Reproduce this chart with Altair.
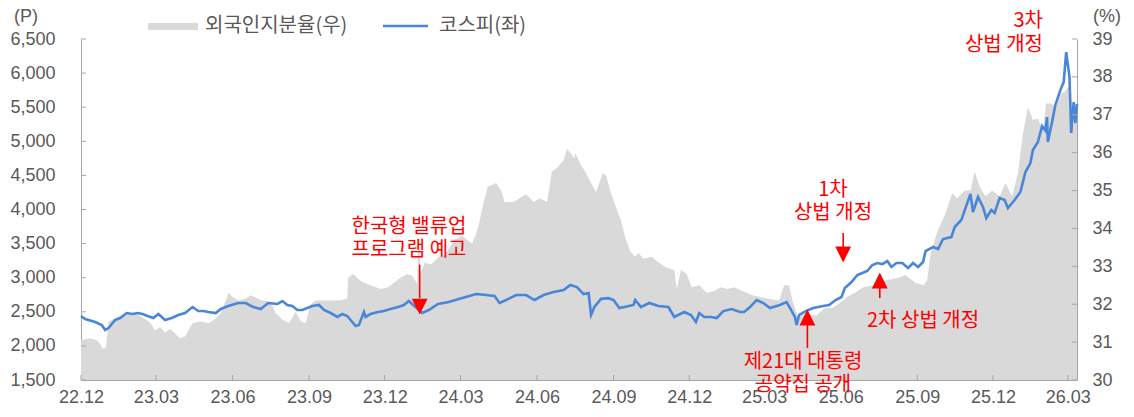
import altair as alt
import pandas as pd

# ---------------- data ----------------
kospi_dates = [
    "2022-12-01", "2022-12-06", "2022-12-18", "2022-12-26", "2022-12-30", "2023-01-03", "2023-01-11", "2023-01-17",
    "2023-01-25", "2023-02-01", "2023-02-07", "2023-02-13", "2023-02-19", "2023-02-26", "2023-03-04", "2023-03-12",
    "2023-03-20", "2023-03-28", "2023-04-05", "2023-04-14", "2023-04-21", "2023-04-27", "2023-05-03", "2023-05-12",
    "2023-05-18", "2023-05-27", "2023-06-08", "2023-06-17", "2023-06-26", "2023-07-05", "2023-07-08", "2023-07-14",
    "2023-07-25", "2023-07-31", "2023-08-06", "2023-08-12", "2023-08-18", "2023-08-24", "2023-08-30", "2023-09-05",
    "2023-09-13", "2023-09-19", "2023-09-27", "2023-10-05", "2023-10-11", "2023-10-17", "2023-10-23", "2023-10-27",
    "2023-10-31", "2023-11-06", "2023-11-08", "2023-11-14", "2023-11-23", "2023-11-30", "2023-12-08", "2023-12-17",
    "2023-12-24", "2023-12-30", "2024-01-07", "2024-01-15", "2024-01-23", "2024-02-03", "2024-02-16", "2024-02-28",
    "2024-03-20", "2024-04-01", "2024-04-11", "2024-04-17", "2024-04-25", "2024-05-07", "2024-05-19", "2024-05-29",
    "2024-06-09", "2024-06-21", "2024-07-03", "2024-07-11", "2024-07-19", "2024-07-27", "2024-08-02", "2024-08-05",
    "2024-08-09", "2024-08-17", "2024-08-26", "2024-09-01", "2024-09-08", "2024-09-14", "2024-09-25", "2024-09-27",
    "2024-10-04", "2024-10-14", "2024-10-25", "2024-11-06", "2024-11-13", "2024-11-25", "2024-12-03", "2024-12-09",
    "2024-12-13", "2024-12-19", "2024-12-27", "2025-01-03", "2025-01-11", "2025-01-21", "2025-01-31", "2025-02-05",
    "2025-02-12", "2025-02-20", "2025-02-28", "2025-03-08", "2025-03-20", "2025-03-28", "2025-04-01", "2025-04-07",
    "2025-04-09", "2025-04-12", "2025-04-20", "2025-04-29", "2025-05-11", "2025-05-18", "2025-05-26", "2025-06-02",
    "2025-06-06", "2025-06-14", "2025-06-21", "2025-06-27", "2025-07-03", "2025-07-09", "2025-07-15", "2025-07-21",
    "2025-07-27", "2025-08-01", "2025-08-07", "2025-08-14", "2025-08-21", "2025-08-27", "2025-09-02", "2025-09-08",
    "2025-09-11", "2025-09-20", "2025-09-26", "2025-10-02", "2025-10-12", "2025-10-16", "2025-10-24", "2025-10-29",
    "2025-11-04", "2025-11-07", "2025-11-13", "2025-11-19", "2025-11-23", "2025-11-29", "2025-12-03", "2025-12-09",
    "2025-12-15", "2025-12-19", "2025-12-27", "2026-01-03", "2026-01-09", "2026-01-15", "2026-01-18", "2026-01-24",
    "2026-01-29", "2026-02-02", "2026-02-04", "2026-02-05", "2026-02-10", "2026-02-14", "2026-02-20", "2026-02-24",
    "2026-02-27", "2026-03-03", "2026-03-05", "2026-03-08", "2026-03-10", "2026-03-12",
]
kospi_values = [
    2438, 2394, 2350, 2306, 2233, 2262, 2380, 2409,
    2482, 2467, 2482, 2467, 2438, 2409, 2467, 2380,
    2409, 2453, 2482, 2570, 2511, 2511, 2497, 2482,
    2541, 2585, 2629, 2629, 2570, 2541, 2570, 2629,
    2614, 2658, 2600, 2585, 2526, 2526, 2556, 2585,
    2600, 2526, 2482, 2424, 2467, 2438, 2350, 2292,
    2306, 2497, 2424, 2467, 2497, 2511, 2541, 2570,
    2600, 2658, 2570, 2482, 2526, 2614, 2643, 2687,
    2761, 2746, 2731, 2629, 2673, 2746, 2746, 2673,
    2746, 2790, 2819, 2893, 2863, 2760, 2775, 2453,
    2570, 2690, 2700, 2673, 2556, 2570, 2600, 2673,
    2570, 2629, 2585, 2570, 2424, 2497, 2453, 2350,
    2482, 2424, 2424, 2409, 2511, 2541, 2497, 2497,
    2570, 2673, 2629, 2556, 2600, 2643, 2556, 2424,
    2306, 2453, 2511, 2556, 2585, 2600, 2673, 2717,
    2849, 2937, 3040, 3070, 3098, 3186, 3215, 3200,
    3244, 3157, 3215, 3215, 3142, 3215, 3157, 3230,
    3391, 3450, 3420, 3567, 3596, 3743, 3846, 4022,
    4227, 3963, 4183, 4036, 3875, 3992, 3950, 4168,
    4139, 4022, 4139, 4256, 4549, 4681, 4872, 4989,
    5223, 5160, 5355, 4989, 5282, 5531, 5751, 5868,
    6308, 5942, 5121, 5575, 5267, 5550,
]

foreign_dates = [
    "2022-12-01", "2022-12-12", "2022-12-20", "2022-12-24", "2022-12-27", "2022-12-31", "2023-01-03", "2023-01-08",
    "2023-01-14", "2023-01-24", "2023-01-30", "2023-02-07", "2023-02-17", "2023-02-23", "2023-02-28", "2023-03-06",
    "2023-03-12", "2023-03-18", "2023-03-30", "2023-04-05", "2023-04-14", "2023-04-23", "2023-05-03", "2023-05-12",
    "2023-05-18", "2023-05-24", "2023-05-27", "2023-06-01", "2023-06-08", "2023-06-17", "2023-06-23", "2023-07-05",
    "2023-07-17", "2023-07-23", "2023-07-31", "2023-08-08", "2023-08-16", "2023-08-22", "2023-08-28", "2023-09-03",
    "2023-09-09", "2023-09-21", "2023-10-09", "2023-10-17", "2023-10-18", "2023-10-24", "2023-11-03", "2023-11-14",
    "2023-11-26", "2023-12-05", "2023-12-20", "2023-12-28", "2024-01-03", "2024-01-09", "2024-01-11", "2024-01-13",
    "2024-01-18", "2024-01-26", "2024-02-04", "2024-02-11", "2024-02-23", "2024-03-03", "2024-03-15", "2024-03-19",
    "2024-03-23", "2024-03-29", "2024-04-03", "2024-04-13", "2024-04-19", "2024-04-23", "2024-05-04", "2024-05-11",
    "2024-05-19", "2024-05-28", "2024-06-04", "2024-06-13", "2024-06-19", "2024-06-25", "2024-07-03", "2024-07-07",
    "2024-07-11", "2024-07-16", "2024-07-17", "2024-07-23", "2024-07-29", "2024-08-05", "2024-08-11", "2024-08-19",
    "2024-08-23", "2024-08-29", "2024-09-04", "2024-09-10", "2024-09-15", "2024-09-21", "2024-09-27", "2024-10-01",
    "2024-10-07", "2024-10-17", "2024-10-25", "2024-11-04", "2024-11-13", "2024-11-16", "2024-11-21", "2024-11-28",
    "2024-12-04", "2024-12-13", "2024-12-22", "2024-12-31", "2025-01-08", "2025-01-16", "2025-01-24", "2025-02-03",
    "2025-02-15", "2025-03-03", "2025-03-19", "2025-03-25", "2025-03-31", "2025-04-04", "2025-04-10", "2025-04-19",
    "2025-05-03", "2025-05-13", "2025-05-22", "2025-05-31", "2025-06-09", "2025-06-18", "2025-06-28", "2025-07-10",
    "2025-07-21", "2025-07-30", "2025-08-09", "2025-08-18", "2025-08-30", "2025-09-09", "2025-09-13", "2025-09-17",
    "2025-09-26", "2025-10-05", "2025-10-13", "2025-10-19", "2025-10-28", "2025-11-04", "2025-11-09", "2025-11-15",
    "2025-11-22", "2025-11-30", "2025-12-09", "2025-12-16", "2025-12-24", "2025-12-31", "2026-01-06", "2026-01-12",
    "2026-01-18", "2026-01-24", "2026-01-30", "2026-02-03", "2026-02-09", "2026-02-15", "2026-02-21", "2026-02-25",
    "2026-03-03", "2026-03-06", "2026-03-08", "2026-03-10", "2026-03-12",
]
foreign_values = [
    31.05, 31.10, 31.05, 30.95, 30.82, 30.85, 31.53, 31.60,
    31.66, 31.70, 31.77, 31.72, 31.60, 31.50, 31.30, 31.40,
    31.25, 31.35, 31.10, 31.15, 31.50, 31.55, 31.50, 31.62,
    31.77, 32.10, 32.30, 32.20, 32.10, 32.15, 32.24, 32.11,
    32.06, 31.77, 31.60, 31.50, 31.80, 31.55, 31.50, 32.00,
    32.10, 32.10, 32.10, 32.15, 32.70, 32.80, 32.60, 32.50,
    32.40, 32.45, 32.70, 32.80, 32.75, 32.55, 33.90, 32.80,
    33.10, 33.05, 33.25, 33.30, 33.70, 33.80, 33.60, 33.80,
    34.10, 34.70, 35.10, 35.20, 35.00, 34.70, 34.70, 34.80,
    34.90, 34.70, 34.80, 34.70, 35.50, 35.60, 35.80, 36.10,
    36.00, 35.85, 36.00, 35.70, 35.50, 35.20, 34.96, 35.46,
    35.40, 34.93, 34.56, 34.20, 33.77, 33.40, 33.25, 33.35,
    33.20, 33.25, 33.10, 32.96, 32.90, 32.40, 32.90, 32.80,
    32.45, 32.50, 32.30, 32.35, 32.45, 32.40, 32.45, 32.35,
    32.24, 32.16, 32.10, 32.50, 32.50, 32.10, 31.70, 31.75,
    31.70, 31.90, 31.90, 32.03, 32.20, 32.30, 32.45, 32.50,
    32.60, 32.65, 32.70, 32.77, 32.56, 32.50, 32.64, 33.35,
    33.96, 34.40, 34.93, 34.80, 35.00, 35.00, 35.50, 35.10,
    34.85, 35.00, 34.85, 35.20, 34.85, 35.45, 36.50, 37.20,
    36.86, 36.90, 36.60, 37.30, 37.30, 37.20, 37.57, 37.60,
    37.80, 37.20, 36.70, 37.20, 36.94,
]

left_ticks = [1500, 2000, 2500, 3000, 3500, 4000, 4500, 5000, 5500, 6000, 6500]
right_ticks = [30, 31, 32, 33, 34, 35, 36, 37, 38, 39]
x_tick_dates = ["2022-12-01", "2023-03-01", "2023-06-01", "2023-09-01", "2023-12-01", "2024-03-01", "2024-06-01",
                "2024-09-01", "2024-12-01", "2025-03-01", "2025-06-01", "2025-09-01", "2025-12-01", "2026-03-01"]
x_domain = ["2022-12-01", "2026-03-12"]

# annotation arrows (date, tail value, head-base value, head centre value, direction) on the KOSPI scale
arrow_dates = ["2024-01-12", "2025-06-04", "2025-07-18", "2025-04-22"]
arrow_tail = [3190, 3655, 2702, 1969]
arrow_base = [2702, 3450, 2849, 2306]
arrow_head = [2577, 3340, 2959, 2416]
arrow_dir = ["down", "down", "up", "up"]

# ---------------- styling ----------------
W, H = 996, 341
NUM_FONT = "Liberation Sans, Noto Sans CJK KR"
KR_FONT = "Noto Sans CJK KR"
GREY_TXT = "#595959"
AXIS_GREY = "#A6A6A6"
RED = "#FF0000"
BLUE = "#4A86D8"
AREA = "#D9D9D9"
KR_SIZE = 20


def dt(s):
    y, m, d = (int(v) for v in s.split("-"))
    return alt.DateTime(year=y, month=m, date=d, utc=True)


x_scale = alt.Scale(type="utc", domain=[dt(s) for s in x_domain])
x_axis = alt.Axis(values=[dt(s) for s in x_tick_dates], format="%y.%m", formatType="utc",
                  labelExpr="utcFormat(datum.value, '%y.%m')", title=None,
                  ticks=False, grid=False, labelPadding=8, labelFontSize=18, labelFont=NUM_FONT,
                  labelColor=GREY_TXT, domainColor=AXIS_GREY, labelFlush=False, labelOverlap=False)
X = alt.X("date:T", scale=x_scale, axis=x_axis)
left_scale = alt.Scale(domain=[1500, 6500], nice=False, zero=False)
right_scale = alt.Scale(domain=[30, 39], nice=False, zero=False)

kospi_df = pd.DataFrame({"date": kospi_dates, "kospi": kospi_values})
foreign_df = pd.DataFrame({"date": foreign_dates, "share": foreign_values})
arrow_df = pd.DataFrame({"date": arrow_dates, "tail": arrow_tail, "base": arrow_base,
                         "head": arrow_head, "dir": arrow_dir})

area = alt.Chart(foreign_df).mark_area(color=AREA, opacity=1).encode(
    x=X,
    y=alt.Y("share:Q", scale=right_scale,
            axis=alt.Axis(orient="right", values=right_ticks, title=None, ticks=False, grid=False,
                          labelExpr="format(datum.value, 'd')",
                          labelPadding=15, labelFontSize=18, labelFont=NUM_FONT, labelColor=GREY_TXT,
                          domainColor=AXIS_GREY)),
    y2=alt.datum(30),
)

line = alt.Chart(kospi_df).mark_line(color=BLUE, strokeWidth=2.6).encode(
    x=X,
    y=alt.Y("kospi:Q", scale=left_scale,
            axis=alt.Axis(orient="left", values=left_ticks, format=",", title=None, ticks=False, grid=False,
                          labelExpr="format(datum.value, ',')",
                          labelPadding=26, labelFontSize=18, labelFont=NUM_FONT, labelColor=GREY_TXT,
                          domainColor=AXIS_GREY)),
)

arrow_rules = alt.Chart(arrow_df).mark_rule(color=RED, strokeWidth=1.6).encode(
    x=X,
    y=alt.Y("tail:Q", scale=left_scale, axis=None),
    y2="base:Q",
)
arrow_heads = alt.Chart(arrow_df).mark_point(filled=True, color=RED, opacity=1, size=250).encode(
    x=X,
    y=alt.Y("head:Q", scale=left_scale, axis=None),
    shape=alt.Shape("dir:N", scale=alt.Scale(domain=["down", "up"],
                                             range=["M-1,-1L1,-1L0,1Z", "M-1,1L1,1L0,-1Z"]), legend=None),
)

# inward tick marks
left_tick_marks = alt.Chart(pd.DataFrame({"v": left_ticks})).mark_rule(color=AXIS_GREY).encode(
    y=alt.Y("v:Q", scale=left_scale, axis=None), x=alt.value(0), x2=alt.value(5))
right_tick_marks = alt.Chart(pd.DataFrame({"v": right_ticks})).mark_rule(color=AXIS_GREY).encode(
    y=alt.Y("v:Q", scale=right_scale, axis=None), x=alt.value(W - 5), x2=alt.value(W))
bottom_tick_marks = alt.Chart(pd.DataFrame({"date": x_tick_dates})).mark_rule(color=AXIS_GREY).encode(
    x=X, y=alt.value(H - 5), y2=alt.value(H))


def text(s, x, y, align="center", color=RED, font=KR_FONT, size=KR_SIZE):
    return alt.Chart(pd.DataFrame({"t": [s]})).mark_text(
        align=align, baseline="middle", font=font, fontSize=size, color=color
    ).encode(text="t:N", x=alt.value(x), y=alt.value(y))


one = pd.DataFrame({"a": [0]})
legend_rect = alt.Chart(one).mark_rect(color=AREA).encode(
    x=alt.value(67), x2=alt.value(117), y=alt.value(-16), y2=alt.value(-9))
legend_line = alt.Chart(one).mark_rule(color=BLUE, strokeWidth=2.6).encode(
    x=alt.value(302), x2=alt.value(347), y=alt.value(-13))

texts = [
    text("외국인지분율(우)", 124, -13, align="left", color=GREY_TXT),
    text("코스피(좌)", 358, -13, align="left", color=GREY_TXT),
    text("(P)", -67, -22, align="left", color=GREY_TXT, font=NUM_FONT, size=18),
    text("(%)", 1012, -22, align="left", color=GREY_TXT, font=NUM_FONT, size=18),
    text("한국형 밸류업", 328, 188),
    text("프로그램 예고", 328, 211),
    text("1차", 752, 151),
    text("상법 개정", 752, 174),
    text("2차 상법 개정", 786, 282, align="left"),
    text("제21대 대통령", 722, 323),
    text("공약집 공개", 722, 346),
    text("3차", 962, -18, align="right"),
    text("상법 개정", 962, 6, align="right"),
]

chart = alt.layer(
    area, line, arrow_rules, arrow_heads,
    left_tick_marks, right_tick_marks, bottom_tick_marks,
    legend_rect, legend_line, *texts,
).resolve_scale(y="independent").properties(
    width=W, height=H,
    padding={"left": 73, "top": 31, "right": 45, "bottom": 28},
    autosize=alt.AutoSizeParams(type="none"),
).configure_view(stroke=None)

chart.save("out.html", embed_options={"renderer": "svg", "actions": False})
